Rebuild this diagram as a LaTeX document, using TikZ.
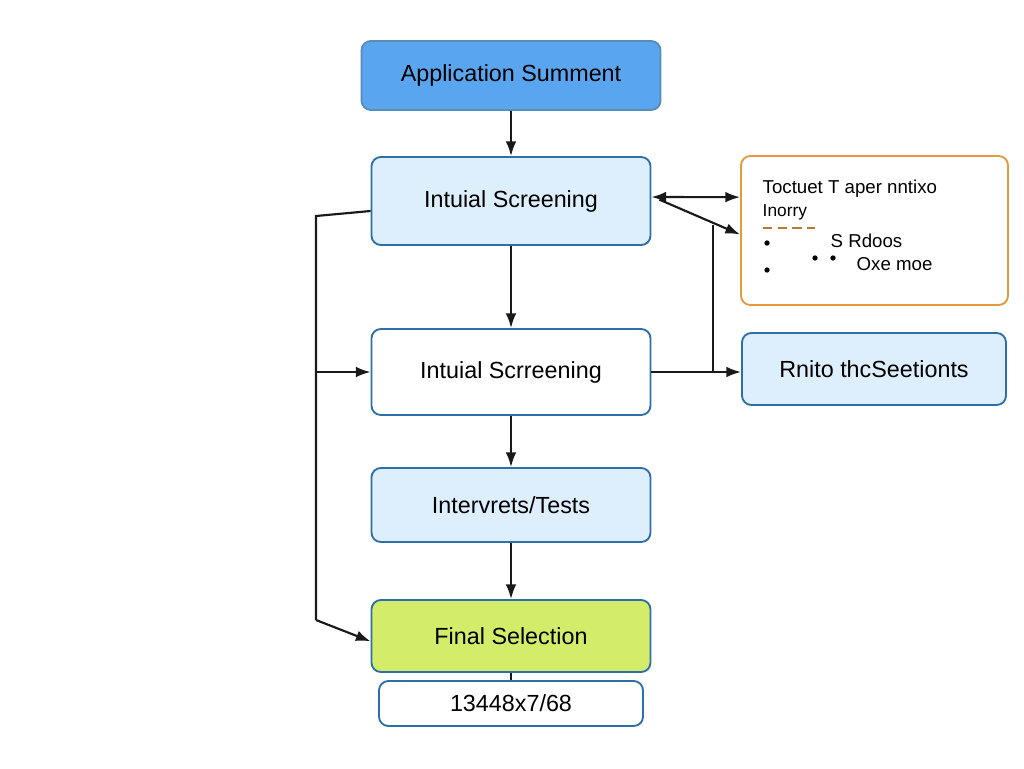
\documentclass[tikz,border=0pt]{standalone}
\usepackage{fontspec}
\setmainfont{Liberation Sans}
\usetikzlibrary{arrows.meta}
\definecolor{topblue}{HTML}{5AA5F0}
\definecolor{paleblue}{HTML}{DDEFFC}
\definecolor{edgeblue}{HTML}{2F6FA8}
\definecolor{limegreen}{HTML}{D3EC6A}
\definecolor{noteorange}{HTML}{E39A3C}
\tikzset{
  stagebox/.style={draw=edgeblue, line width=1.4pt, rounded corners=7pt, fill=paleblue, font=\fontsize{17.5}{20}\selectfont},
  flow/.style={-{Latex[length=11pt,width=8pt]}, line width=1.6pt, black!90},
  plain/.style={line width=1.6pt, black!90}
}
\begin{document}
\begin{tikzpicture}[x=0.75pt, y=-0.75pt]
    \useasboundingbox (0,0) rectangle (1024,768);
    % main column
    \node[stagebox, fill=topblue, draw=edgeblue!80, minimum width=299*0.75pt, minimum height=69*0.75pt] (apply) at (511,75.5) {Application Summent};
    \node[stagebox, minimum width=279*0.75pt, minimum height=88*0.75pt] (screenA) at (511,201) {Intuial Screening};
    \node[stagebox, fill=white, minimum width=279*0.75pt, minimum height=86*0.75pt] (screenB) at (511,372) {Intuial Scrreening};
    \node[stagebox, minimum width=279*0.75pt, minimum height=74*0.75pt] (interv) at (511,505) {Intervrets/Tests};
    \node[stagebox, fill=limegreen, minimum width=279*0.75pt, minimum height=72*0.75pt] (final) at (511,636) {Final Selection};
    \node[stagebox, fill=white, minimum width=264*0.75pt, minimum height=45*0.75pt] (count) at (511,703.5) {13448x7/68};
    % side boxes
    \node[stagebox, fill=white, draw=noteorange, minimum width=267*0.75pt, minimum height=149*0.75pt] (note) at (874.5,230.5) {};
    \node[stagebox, minimum width=264*0.75pt, minimum height=72*0.75pt] (result) at (874,369) {Rnito thcSeetionts};
    % note contents
    \node[anchor=west, font=\fontsize{14}{16}\selectfont] (noteA) at (758,189) {Toctuet T aper nntixo};
    \node[anchor=west, font=\fontsize{13}{15}\selectfont] (noteB) at (758,212) {Inorry};
    \node[anchor=west, font=\fontsize{14}{16}\selectfont] (noteC) at (826,241) {S Rdoos};
    \node[anchor=west, font=\fontsize{14}{16}\selectfont] (noteD) at (852,264) {Oxe moe};
    \draw[noteorange!80!black, line width=1.3pt, dash pattern=on 7pt off 4pt] (763,228) -- (815,228);
    \foreach \px/\py in {767/243, 767/270, 815/258, 833/258}
        \fill (\px,\py) circle (2pt);
    % arrows down the column
    \draw[flow] (apply) -- (screenA);
    \draw[flow] (screenA) -- (screenB);
    \draw[flow] (screenB) -- (interv);
    \draw[flow] (interv) -- (final);
    \draw[plain] (final) -- (count);
    % loop on the left
    \coordinate (loopTop) at (316,216);
    \coordinate (loopMid) at (316,372);
    \coordinate (loopLow) at (316,620);
    \draw[plain] (screenA.west) ++(0,10) -- (loopTop) -- (loopLow);
    \draw[flow] (loopLow) -- ([yshift=-4pt]final.west);
    \draw[flow] (loopMid) -- (screenB.west);
    % links on the right
    \draw[flow, {Latex[length=11pt,width=8pt]}-{Latex[length=11pt,width=8pt]}] ([yshift=3pt]screenA.east) -- ([yshift=25pt]note.west);
    \draw[flow] ([xshift=6pt,yshift=1pt]screenA.east) -- ([yshift=-3pt]note.west);
    \coordinate (riseTop) at (713,225);
    \coordinate (riseLow) at (713,372);
    \draw[plain] (riseTop) -- (riseLow);
    \draw[flow] (screenB.east) -- (result.west |- screenB.east);
\end{tikzpicture}
\end{document}
